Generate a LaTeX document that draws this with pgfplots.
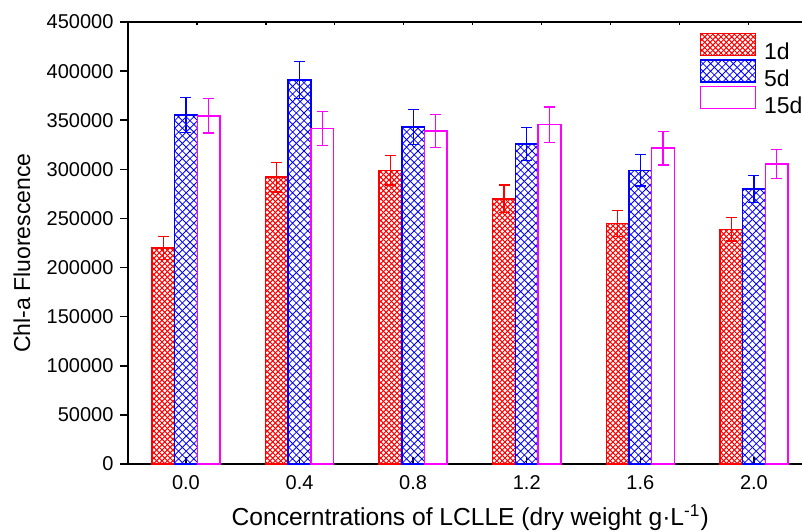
\documentclass[border=0pt]{standalone}
\usepackage{fontspec}
\setmainfont{Liberation Sans}
\usepackage{pgfplots}
\pgfplotsset{compat=1.18}
\usetikzlibrary{patterns}

\definecolor{cRed}{RGB}{255,0,0}
\definecolor{cBlue}{RGB}{0,0,255}
\definecolor{cMag}{RGB}{255,0,255}

% fine diagonal crosshatch for 1d, coarser for 5d
\pgfdeclarepatternformonly{redx}{\pgfqpoint{-0.5pt}{-0.5pt}}{\pgfqpoint{3.2pt}{3.2pt}}{\pgfqpoint{2.7pt}{2.7pt}}{
  \pgfsetlinewidth{0.5pt}
  \pgfpathmoveto{\pgfqpoint{0pt}{0pt}}\pgfpathlineto{\pgfqpoint{2.7pt}{2.7pt}}
  \pgfpathmoveto{\pgfqpoint{0pt}{2.7pt}}\pgfpathlineto{\pgfqpoint{2.7pt}{0pt}}
  \pgfusepath{stroke}}
\pgfdeclarepatternformonly{bluex}{\pgfqpoint{-0.5pt}{-0.5pt}}{\pgfqpoint{4.3pt}{4.3pt}}{\pgfqpoint{3.8pt}{3.8pt}}{
  \pgfsetlinewidth{0.4pt}
  \pgfpathmoveto{\pgfqpoint{0pt}{0pt}}\pgfpathlineto{\pgfqpoint{3.8pt}{3.8pt}}
  \pgfpathmoveto{\pgfqpoint{0pt}{3.8pt}}\pgfpathlineto{\pgfqpoint{3.8pt}{0pt}}
  \pgfusepath{stroke}}

\pgfplotsset{ybar legend/.style={legend image code/.code={\draw[##1,line width=0.75pt] (0pt,-1.15pt) rectangle (27.5pt,9.85pt);}}}

\begin{document}
\begin{tikzpicture}
\path[use as bounding box] (-64pt,-33.5pt) rectangle (337pt,232pt);

\begin{axis}[
    at={(0pt,0pt)}, anchor=south west,
    scale only axis,
    width=347.05pt, height=221pt,
    xmin=-0.51, xmax=5.6,
    ymin=0, ymax=450000,
    ybar=0pt, bar width=0.2,
    axis x line=bottom, axis y line=left,
    axis line style={-, line width=0.75pt},
    xtick=data,
    xticklabels={0.0,0.4,0.8,1.2,1.6,2.0},
    ytick={0,50000,...,450000},
    scaled y ticks=false,
    /pgf/number format/assume math mode=true,
    yticklabel style={/pgf/number format/fixed, /pgf/number format/1000 sep={}},
    xtick align=inside, ytick align=outside,
    major tick length=3.75pt,
    tick style={line width=0.75pt, black},
    tick label style={font=\fontsize{10}{12}\selectfont},
    xticklabel style={yshift=-2pt},
    xlabel={Concerntrations of LCLLE (dry weight g·L\textsuperscript{-1})},
    ylabel={Chl-a Fluorescence},
    ylabel style={font=\fontsize{11.5}{13}\selectfont,
        at={(axis description cs:-0.153,0.477)}, anchor=center},
    xlabel style={font=\fontsize{12.3}{14}\selectfont,
        at={(axis description cs:0.493,-0.121)}, anchor=center},
    legend style={at={(axis description cs:0.823,0.977)}, anchor=north west,
        draw=none, fill=none, inner sep=0pt, row sep=-1.8pt,
        font=\fontsize{11.5}{13}\selectfont,
        nodes={inner sep=0pt},
        /tikz/every odd column/.style={column sep=4pt}},
    legend cell align=left,
]

\addplot[draw=cRed, line width=0.75pt,
    pattern=redx, pattern color=cRed,
    error bars/.cd, y dir=both, y explicit,
    error bar style={color=cRed, line width=0.6pt},
    error mark options={rotate=90, mark size=2.75pt, color=cRed, line width=0.6pt}]
coordinates {
    (0,220000) +- (0,11500)
    (1,292000) +- (0,15000)
    (2,299000) +- (0,15000)
    (3,270000) +- (0,14000)
    (4,245000) +- (0,13000)
    (5,239000) +- (0,12000)
};
\addlegendentry{1d}

\addplot[draw=cBlue, line width=0.75pt,
    pattern=bluex, pattern color=cBlue,
    error bars/.cd, y dir=both, y explicit,
    error bar style={color=cBlue, line width=0.6pt},
    error mark options={rotate=90, mark size=2.75pt, color=cBlue, line width=0.6pt}]
coordinates {
    (0,355500) +- (0,18000)
    (1,391000) +- (0,19000)
    (2,343000) +- (0,18000)
    (3,326000) +- (0,17000)
    (4,299000) +- (0,16000)
    (5,280000) +- (0,14000)
};
\addlegendentry{5d}

\addplot[draw=cMag, fill=white, line width=0.75pt,
    error bars/.cd, y dir=both, y explicit,
    error bar style={color=cMag, line width=0.6pt},
    error mark options={rotate=90, mark size=2.75pt, color=cMag, line width=0.6pt}]
coordinates {
    (0,354500) +- (0,17500)
    (1,341500) +- (0,17000)
    (2,339000) +- (0,17000)
    (3,345500) +- (0,18000)
    (4,321500) +- (0,17000)
    (5,305500) +- (0,15000)
};
\addlegendentry{15d}
\end{axis}

% top frame line with its own small inward ticks
\begin{axis}[
    at={(0pt,0pt)}, anchor=south west,
    scale only axis,
    width=347.05pt, height=221pt,
    xmin=-0.51, xmax=5.6,
    ymin=0, ymax=450000,
    axis x line=top, axis y line=none,
    axis line style={-, line width=0.75pt},
    xtick={0.097,0.704,1.311,1.918,2.525,3.132,3.739,4.346,4.953},
    xticklabels={},
    tick align=inside,
    major tick length=1.5pt,
    tick style={line width=0.6pt, black},
]
\end{axis}
\end{tikzpicture}
\end{document}
